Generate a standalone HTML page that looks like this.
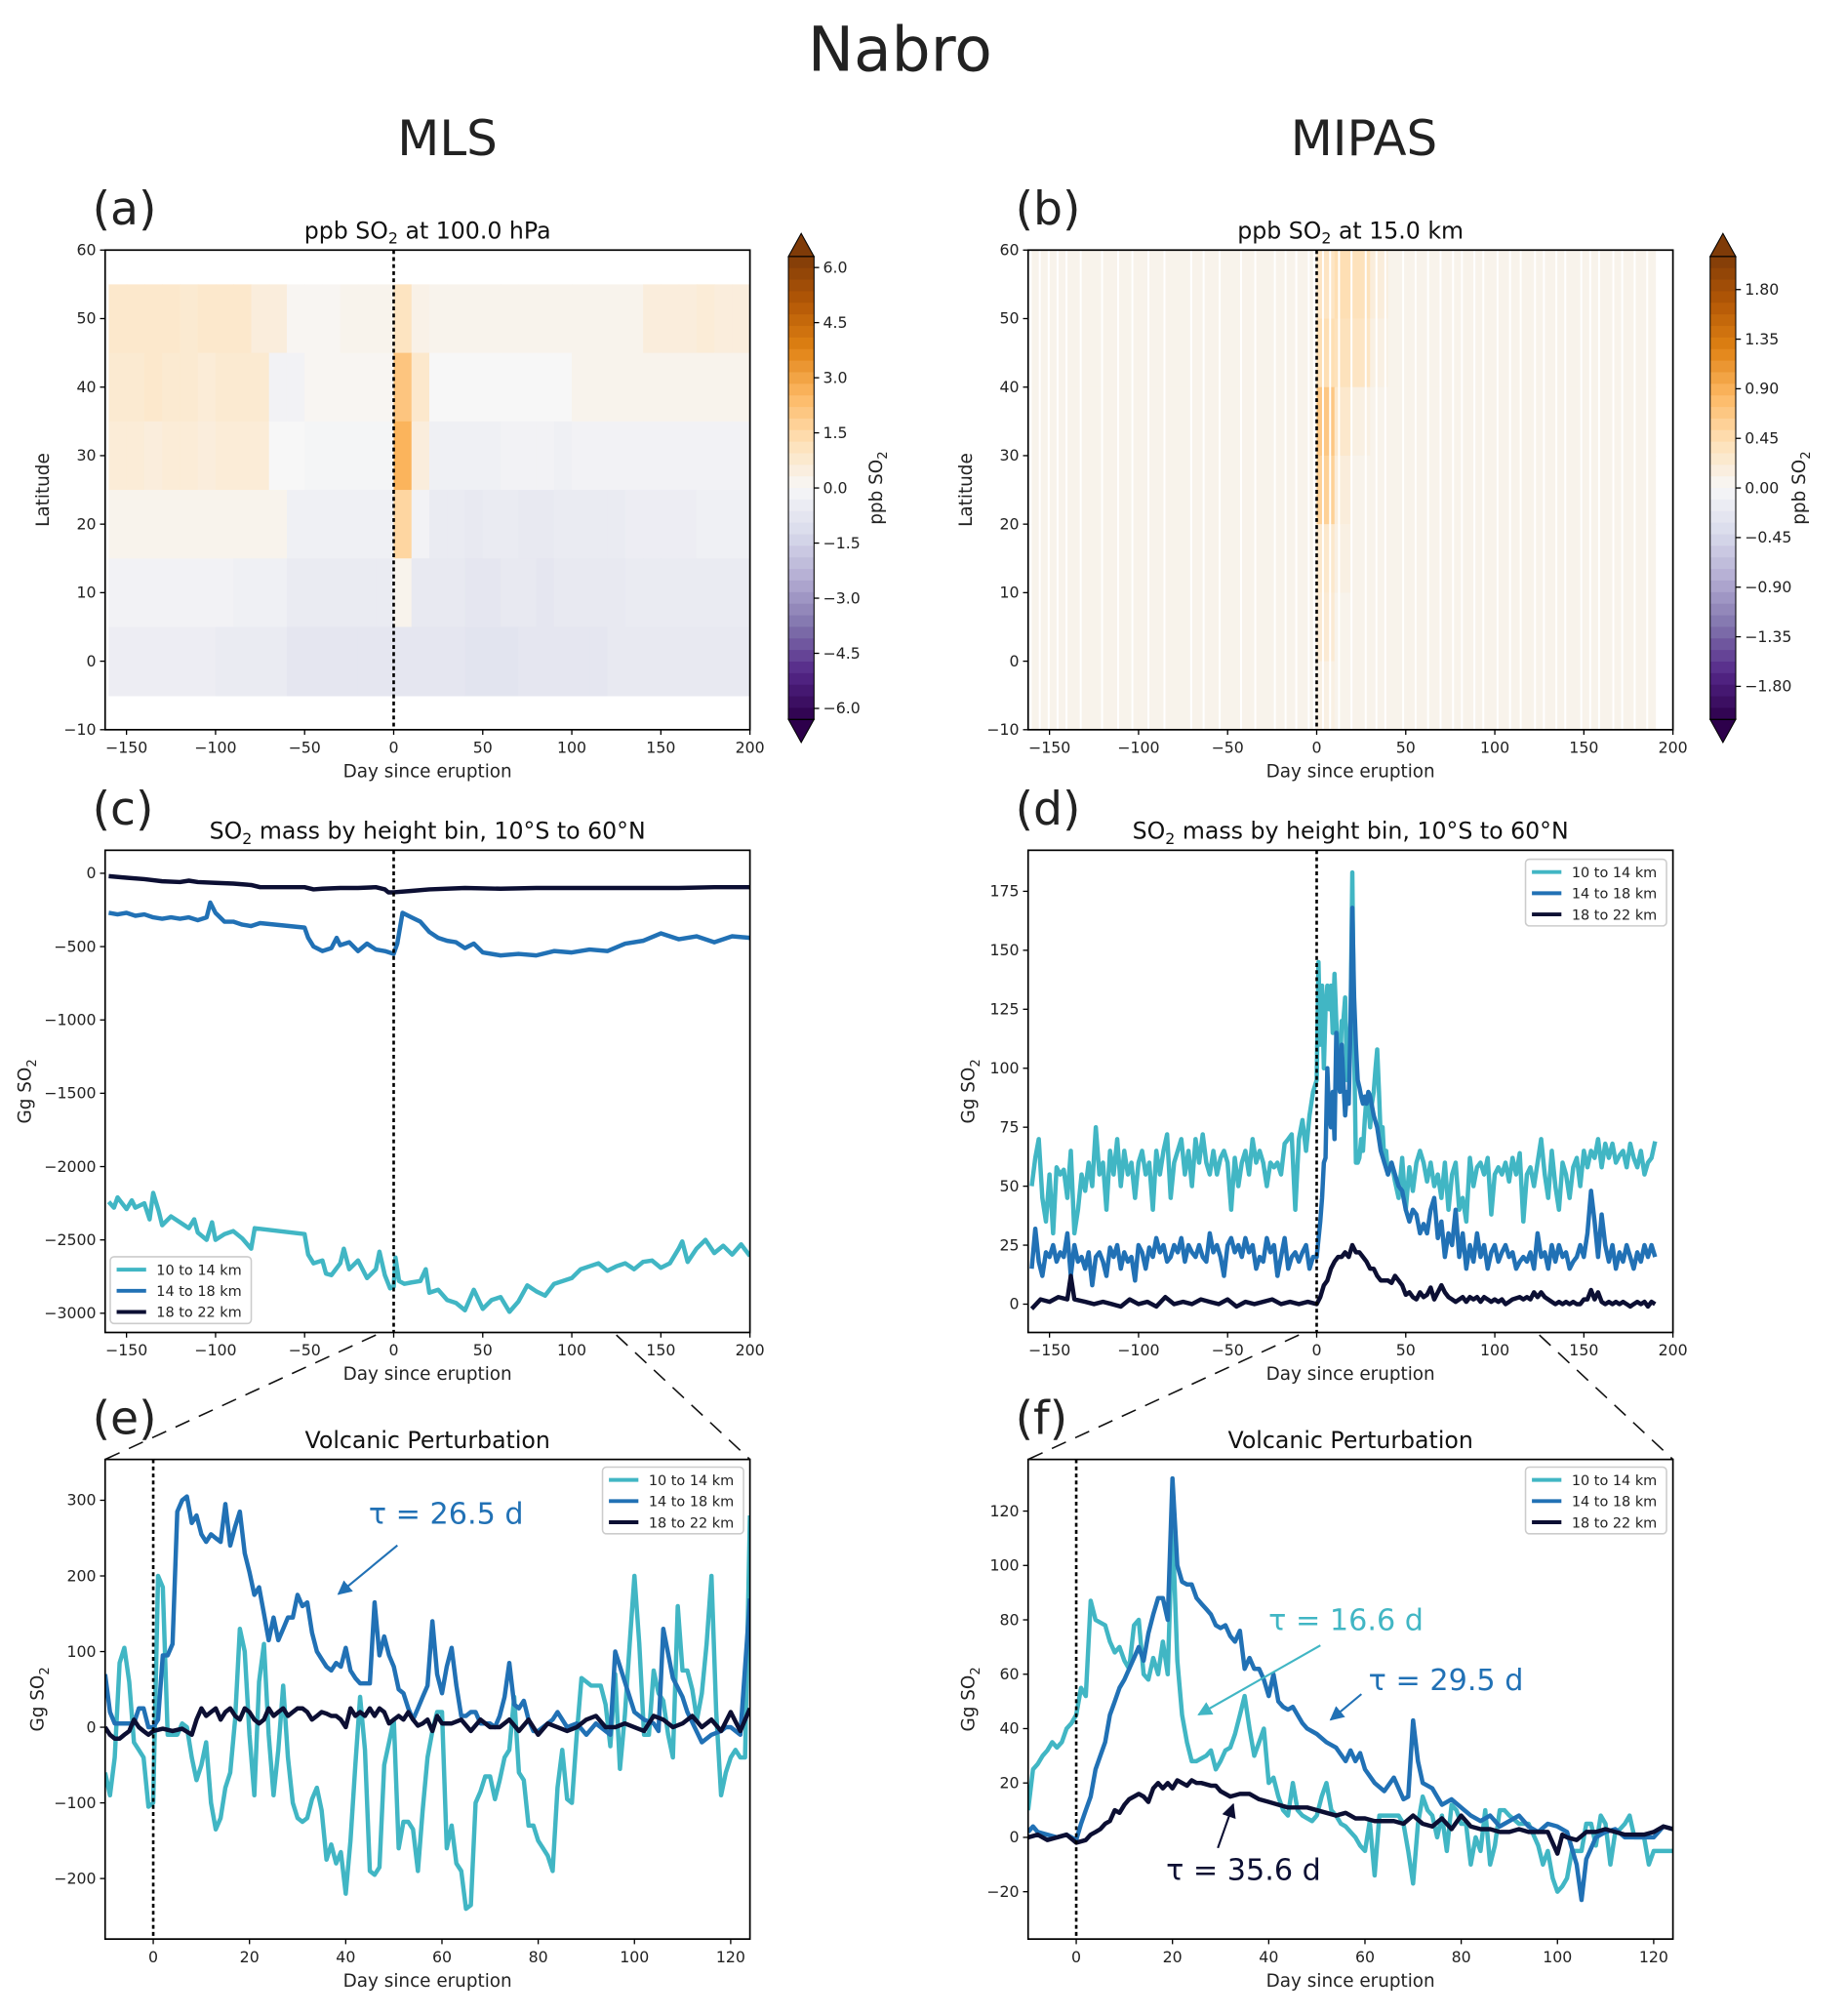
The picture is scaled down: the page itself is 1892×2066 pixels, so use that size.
<!DOCTYPE html>
<html><head><meta charset="utf-8"><title>Nabro SO2</title>
<style>
html,body{margin:0;padding:0;background:#fff;}
svg{display:block;font-family:"DejaVu Sans","Liberation Sans",sans-serif;}
</style></head>
<body>
<svg id="fig" width="1892" height="2066" viewBox="0 0 1440 1572" preserveAspectRatio="none" xmlns="http://www.w3.org/2000/svg">
<defs>
<marker id="ahBlue" viewBox="0 0 10 10" refX="9" refY="5" markerWidth="7" markerHeight="7" orient="auto"><path d="M0,0 L10,5 L0,10 z" fill="#2171b5"/></marker>
<marker id="ahCyan" viewBox="0 0 10 10" refX="9" refY="5" markerWidth="7" markerHeight="7" orient="auto"><path d="M0,0 L10,5 L0,10 z" fill="#41b6c4"/></marker>
<marker id="ahDark" viewBox="0 0 10 10" refX="9" refY="5" markerWidth="7" markerHeight="7" orient="auto"><path d="M0,0 L10,5 L0,10 z" fill="#0c0f33"/></marker>
</defs>
<text x="702" y="55" font-size="48" text-anchor="middle" fill="#222">Nabro</text>
<text x="349" y="121" font-size="38" text-anchor="middle" fill="#222">MLS</text>
<text x="1064" y="121" font-size="38" text-anchor="middle" fill="#222">MIPAS</text>
</svg>
<script>
// ---------- DATA ----------
const C1 = "#41b6c4", C2 = "#2171b5", C3 = "#0c0f33";
const seriesNames = ["10 to 14 km", "14 to 18 km", "18 to 22 km"];

// panel (a) heatmap: 10-day bins from -160, lat rows from 55 (top) to -5
const aDayEdges = [-160,-150,-140,-130,-120,-110,-100,-90,-80,-70,-60,-50,-40,-30,-20,-10,0,10,20,30,40,50,60,70,80,90,100,110,120,130,140,150,160,170,180,190,200];
const aLatEdges = [55,45,35,25,15,5,-5];
const aRow0 = [0.8,0.8,0.8,0.8,0.7,0.8,0.8,0.8,0.5,0.5,0.1,0.1,0.1,0.2,0.2,0.2,1.0,0.3,0.2,0.2,0.2,0.2,0.2,0.2,0.2,0.2,0.2,0.2,0.2,0.2,0.5,0.5,0.5,0.6,0.5,0.5];
const aRow1 = [0.7,0.7,0.8,0.7,0.7,0.6,0.7,0.7,0.7,-0.2,-0.2,0.1,0.1,0.1,0.1,0.1,2.0,0.8,0.0,0.0,0.0,0.0,0.0,0.0,0.0,0.0,0.2,0.2,0.2,0.2,0.2,0.2,0.2,0.2,0.2,0.2];
const aRow2 = [0.6,0.6,0.5,0.6,0.6,0.5,0.6,0.6,0.6,0.0,0.0,-0.1,-0.1,-0.1,-0.1,-0.1,2.5,0.5,-0.3,-0.3,-0.3,-0.3,-0.2,-0.2,-0.2,-0.3,-0.2,-0.2,-0.2,-0.2,-0.2,-0.2,-0.2,-0.2,-0.2,-0.2];
const aRow3 = [0.2,0.2,0.2,0.2,0.2,0.2,0.2,0.2,0.2,0.2,-0.3,-0.3,-0.3,-0.3,-0.3,-0.3,1.5,-0.2,-0.5,-0.5,-0.6,-0.5,-0.5,-0.6,-0.6,-0.5,-0.5,-0.5,-0.5,-0.4,-0.4,-0.4,-0.4,-0.3,-0.3,-0.3];
const aRow4 = [-0.2,-0.2,-0.2,-0.2,-0.2,-0.2,-0.2,-0.3,-0.3,-0.3,-0.5,-0.5,-0.5,-0.5,-0.5,-0.5,0.2,-0.6,-0.6,-0.6,-0.7,-0.7,-0.6,-0.6,-0.7,-0.6,-0.6,-0.6,-0.6,-0.5,-0.5,-0.5,-0.5,-0.5,-0.5,-0.5];
const aRow5 = [-0.4,-0.4,-0.4,-0.4,-0.4,-0.4,-0.5,-0.5,-0.5,-0.5,-0.7,-0.7,-0.7,-0.7,-0.7,-0.7,-0.7,-0.7,-0.7,-0.7,-0.8,-0.8,-0.8,-0.7,-0.7,-0.7,-0.7,-0.7,-0.6,-0.6,-0.6,-0.6,-0.6,-0.6,-0.6,-0.6];
const aTicks = [6.0,4.5,3.0,1.5,0.0,-1.5,-3.0,-4.5,-6.0];

// panel (b) heatmap: 10-day bins from -160 to 190, lat rows from 60 to -10
const bDayEdges = [-160,-150,-140,-130,-120,-110,-100,-90,-80,-70,-60,-50,-40,-30,-20,-10,0,10,20,30,40,50,60,70,80,90,100,110,120,130,140,150,160,170,180,190];
const bLatEdges = [60,50,40,30,20,10,0,-10];
const bBase = 0.08;
const bPlumeRow0 = [0,0,0,0,0,0,0,0,0,0,0,0,0,0,0,0,0.25,0.35,0.3,0.1,0,0,0,0,0,0,0,0,0,0,0,0,0,0,0];
const bPlumeRow1 = [0,0,0,0,0,0,0,0,0,0,0,0,0,0,0,0,0.35,0.3,0.25,0.05,0,0,0,0,0,0,0,0,0,0,0,0,0,0,0];
const bPlumeRow2 = [0,0,0,0,0,0,0,0,0,0,0,0,0,0,0,0,0.6,0.2,0.05,0,0,0,0,0,0,0,0,0,0,0,0,0,0,0,0];
const bPlumeRow3 = [0,0,0,0,0,0,0,0,0,0,0,0,0,0,0,0,0.5,0.1,0,0,0,0,0,0,0,0,0,0,0,0,0,0,0,0,0];
const bPlumeRow4 = [0,0,0,0,0,0,0,0,0,0,0,0,0,0,0,0,0.2,0.05,0,0,0,0,0,0,0,0,0,0,0,0,0,0,0,0,0];
const bPlumeRow5 = [0,0,0,0,0,0,0,0,0,0,0,0,0,0,0,0,0.15,0,0,0,0,0,0,0,0,0,0,0,0,0,0,0,0,0,0];
const bPlumeRow6 = [0,0,0,0,0,0,0,0,0,0,0,0,0,0,0,0,0.05,0,0,0,0,0,0,0,0,0,0,0,0,0,0,0,0,0,0];
const bGapDays = [-156,-151,-146,-141,-133,-121,-112,-104,-95,-86,-71,-64,-55,-43,-35,-24,-18,-12,-5,-2,3,7,12,19,27,33,38,48,55,62,69,76,81,88,93,101,108,114,122,127,134,139,148,153,158,166,171,178,185];
const bTicks = [1.80,1.35,0.90,0.45,0.00,-0.45,-0.90,-1.35,-1.80];

// panel (c) MLS mass by height bin
const cDay1 = [-160,-157,-155,-150,-147,-145,-140,-137,-135,-132,-130,-125,-120,-115,-112,-110,-105,-102,-100,-95,-90,-85,-80,-78,-50,-48,-45,-40,-38,-35,-30,-28,-25,-20,-15,-10,-8,-5,-2,0,1,3,6,10,15,18,20,25,30,35,40,45,50,55,60,65,70,75,80,85,90,95,100,105,110,115,120,125,130,135,140,145,150,155,160,162,165,170,175,180,185,190,195,200];
const cVal1 = [-2240,-2280,-2210,-2290,-2230,-2280,-2250,-2360,-2180,-2300,-2400,-2340,-2380,-2420,-2360,-2450,-2500,-2380,-2500,-2460,-2440,-2490,-2560,-2420,-2460,-2600,-2660,-2640,-2730,-2740,-2660,-2560,-2700,-2640,-2760,-2700,-2580,-2740,-2830,-2820,-2620,-2780,-2800,-2790,-2780,-2700,-2860,-2840,-2910,-2930,-2980,-2840,-2970,-2910,-2890,-2990,-2920,-2810,-2850,-2880,-2800,-2780,-2760,-2700,-2680,-2660,-2710,-2680,-2660,-2700,-2650,-2640,-2690,-2660,-2560,-2510,-2650,-2560,-2500,-2590,-2540,-2600,-2530,-2610];
const cDay2 = [-160,-155,-150,-145,-140,-135,-130,-125,-120,-115,-110,-105,-103,-100,-95,-90,-85,-80,-75,-50,-48,-45,-40,-35,-32,-30,-25,-20,-15,-10,-5,0,2,5,10,15,20,25,30,35,40,45,50,60,70,80,90,100,110,120,130,140,150,160,170,180,190,200];
const cVal2 = [-270,-280,-270,-290,-280,-300,-310,-300,-310,-300,-320,-300,-200,-270,-330,-330,-350,-360,-340,-370,-440,-500,-530,-510,-440,-490,-470,-530,-480,-520,-530,-550,-480,-270,-300,-330,-400,-440,-460,-470,-510,-480,-540,-560,-550,-560,-530,-540,-520,-530,-480,-460,-410,-450,-430,-470,-430,-440];
const cDay3 = [-160,-150,-140,-130,-120,-115,-110,-100,-90,-80,-75,-70,-60,-50,-45,-40,-30,-20,-10,-5,-3,0,10,20,40,60,80,100,120,140,160,180,200];
const cVal3 = [-20,-30,-40,-55,-60,-50,-60,-65,-70,-80,-95,-95,-95,-95,-110,-105,-100,-100,-95,-110,-130,-130,-120,-110,-100,-105,-100,-100,-100,-100,-100,-95,-95];

// panel (d) MIPAS mass by height bin
const dDay1 = [-160,-158,-156,-154,-152,-150,-148,-146,-144,-142,-140,-138,-136,-134,-132,-130,-128,-126,-124,-122,-120,-118,-116,-114,-112,-110,-108,-106,-104,-102,-100,-98,-96,-94,-92,-90,-88,-86,-84,-82,-80,-78,-76,-74,-72,-70,-68,-66,-64,-62,-60,-58,-56,-54,-52,-50,-48,-46,-44,-42,-40,-38,-36,-34,-32,-30,-28,-26,-24,-22,-20,-18,-16,-14,-12,-10,-8,-6,-4,-2,0,1,2,3,4,5,6,7,8,9,10,11,12,13,14,15,16,17,18,19,20,21,22,23,24,25,26,27,28,29,30,31,32,33,34,35,36,37,38,39,40,42,44,46,48,50,52,54,56,58,60,62,64,66,68,70,72,74,76,78,80,82,84,86,88,90,92,94,96,98,100,102,104,106,108,110,112,114,116,118,120,122,124,126,128,130,132,134,136,138,140,142,144,146,148,150,152,154,156,158,160,162,164,166,168,170,172,174,176,178,180,182,184,186,188,190];
const dVal1 = [50,62,70,45,35,55,30,58,55,57,45,65,30,40,55,48,60,50,75,55,60,40,65,55,70,50,65,55,60,45,60,65,55,60,40,65,55,65,72,45,60,65,70,55,65,50,70,60,72,60,55,65,55,62,65,60,40,62,50,60,65,55,70,60,65,60,50,60,58,60,55,68,70,72,40,70,78,65,80,90,95,145,110,135,100,125,135,125,135,115,140,120,105,95,120,120,130,95,105,120,183,110,60,60,62,70,65,78,88,85,75,85,90,100,108,90,70,75,60,65,55,60,52,45,62,40,58,48,60,65,60,52,60,50,55,45,60,40,55,60,40,45,35,62,50,58,60,55,62,38,55,58,55,60,52,62,55,64,35,55,58,50,60,70,55,45,65,50,40,60,55,45,58,62,50,65,58,65,62,70,58,68,62,68,60,63,65,58,68,62,58,65,55,60,62,69];
const dDay2 = [-160,-158,-156,-154,-152,-150,-148,-146,-144,-142,-140,-138,-136,-134,-132,-130,-128,-126,-124,-122,-120,-118,-116,-114,-112,-110,-108,-106,-104,-102,-100,-98,-96,-94,-92,-90,-88,-86,-84,-82,-80,-78,-76,-74,-72,-70,-68,-66,-64,-62,-60,-58,-56,-54,-52,-50,-48,-46,-44,-42,-40,-38,-36,-34,-32,-30,-28,-26,-24,-22,-20,-18,-16,-14,-12,-10,-8,-6,-4,-2,0,2,3,4,5,6,7,8,9,10,11,12,13,14,15,16,17,18,19,20,21,22,23,24,25,26,27,28,29,30,32,34,36,38,40,42,44,46,48,50,52,54,56,58,60,62,64,66,68,70,72,74,76,78,80,82,84,86,88,90,92,94,96,98,100,102,104,106,108,110,112,114,116,118,120,122,124,126,128,130,132,134,136,138,140,142,144,146,148,150,152,154,156,158,160,162,164,166,168,170,172,174,176,178,180,182,184,186,188,190];
const dVal2 = [15,32,18,12,22,20,25,18,22,20,30,12,25,18,20,15,22,8,20,22,18,12,24,20,25,15,22,18,20,10,25,22,15,24,20,28,22,25,18,20,25,22,28,18,25,22,20,25,20,18,30,22,25,20,12,25,28,22,25,20,28,22,25,15,20,18,28,22,25,12,20,28,15,20,22,18,22,25,15,20,20,35,45,60,62,100,80,75,90,70,115,100,90,110,95,80,90,85,118,168,130,110,95,92,88,85,88,85,90,88,80,75,65,60,55,60,55,50,48,40,35,40,38,30,34,30,40,45,28,35,20,30,25,40,20,30,15,25,18,30,20,25,15,22,25,18,22,25,20,22,15,18,20,18,22,15,30,20,22,15,25,18,25,20,22,15,18,20,25,20,30,48,35,20,38,25,18,25,15,22,18,25,20,15,22,18,25,20,25,20];
const dDay3 = [-160,-155,-150,-145,-140,-138,-136,-130,-125,-120,-115,-110,-105,-100,-95,-90,-85,-80,-75,-70,-65,-60,-55,-50,-45,-40,-35,-30,-25,-20,-15,-10,-5,0,2,4,6,8,10,12,14,16,18,20,22,24,26,28,30,32,34,36,38,40,42,44,46,48,50,52,54,56,58,60,62,64,66,68,70,72,74,76,78,80,82,84,86,88,90,92,94,96,98,100,102,104,106,108,110,114,116,118,120,122,124,126,128,130,132,134,136,138,140,142,144,146,148,150,152,154,156,158,160,162,164,166,168,170,172,174,176,178,180,182,184,186,188,190];
const dVal3 = [-2,2,1,3,2,12,2,1,0,1,0,-1,2,0,1,-1,3,0,1,0,2,1,0,2,-1,1,0,1,2,0,1,0,1,0,3,8,10,15,18,20,20,22,20,25,22,22,20,18,15,15,12,10,10,10,9,12,10,8,4,5,3,2,5,3,4,7,2,5,8,5,3,2,1,2,3,1,3,2,3,1,3,2,1,2,1,2,0,1,2,3,2,3,2,5,3,5,3,2,1,0,1,0,1,0,1,0,0,2,2,6,2,5,1,0,1,0,1,0,1,0,-1,0,1,0,1,-1,1,0];

// panel (e) MLS perturbation
const eDay1 = [-10,-9,-8,-7,-6,-5,-4,-3,-2,-1,0,1,2,3,4,5,6,7,8,9,10,11,12,13,14,15,16,17,18,19,20,21,22,23,24,25,26,27,28,29,30,31,32,33,34,35,36,37,38,39,40,41,42,43,44,45,46,47,48,49,50,51,52,53,54,55,56,57,58,59,60,61,62,63,64,65,66,67,68,69,70,71,72,73,74,75,76,77,78,79,80,81,82,83,84,85,86,87,88,89,90,91,92,93,94,95,96,97,98,99,100,101,102,103,104,105,106,107,108,109,110,111,112,113,114,115,116,117,118,119,120,121,122,123,124];
const eVal1 = [-60,-90,-40,85,105,60,-20,-30,-40,-105,-100,200,185,-10,-10,-10,5,0,-40,-70,-50,-20,-100,-135,-120,-80,-60,10,130,100,-10,-90,60,110,-10,-90,-30,55,-40,-100,-120,-125,-120,-95,-80,-110,-175,-155,-180,-165,-220,-150,-50,40,-30,-190,-195,-185,-50,-20,10,-160,-125,-125,-135,-190,-110,-40,-5,20,20,-160,-130,-180,-190,-240,-235,-100,-85,-65,-65,-95,-70,-40,-30,40,-60,-70,-130,-130,-150,-160,-170,-190,-80,-30,-95,-100,-10,65,60,55,55,55,30,-25,70,-55,15,110,200,110,-10,-10,75,45,35,-10,-40,160,75,75,50,10,45,110,200,20,-90,-60,-40,-30,-40,-40,280];
const eDay2 = [-10,-9,-8,-6,-4,-3,-2,-1,0,1,2,3,4,5,6,7,8,9,10,11,12,13,14,15,16,17,18,19,20,21,22,23,24,25,26,27,28,29,30,31,32,33,34,35,36,37,38,39,40,41,42,43,44,45,46,47,48,49,50,51,52,53,54,55,56,57,58,59,60,61,62,63,64,65,66,67,68,69,70,71,72,73,74,75,76,77,78,79,80,81,82,83,84,86,88,90,92,95,96,98,100,102,104,105,106,108,110,111,114,116,118,119,120,122,124];
const eVal2 = [70,20,5,5,5,25,25,0,0,10,95,95,110,285,300,305,270,280,255,245,255,250,245,295,240,265,285,230,205,175,185,150,115,145,115,130,145,145,175,160,165,125,100,90,80,75,85,80,105,75,65,58,58,58,165,95,120,95,80,50,45,25,10,25,40,55,140,70,45,80,105,55,15,15,20,20,5,5,5,0,15,40,85,30,25,35,10,-5,-5,0,5,10,20,0,5,-10,5,-10,100,60,20,10,5,-5,130,65,40,20,-20,-10,-5,0,0,-10,170,70];
const eDay3 = [-10,-9,-8,-7,-6,-5,-4,-3,-2,-1,0,2,4,6,8,9,10,11,12,13,14,15,16,17,18,19,20,21,22,23,24,25,26,27,28,29,30,31,32,33,34,35,36,37,38,39,40,41,42,43,44,45,46,47,48,49,50,51,52,53,54,55,56,57,58,59,60,62,64,66,68,70,72,74,76,78,80,82,84,86,88,90,92,94,96,98,100,102,104,106,108,110,112,114,116,118,120,122,124];
const eVal3 = [0,-10,-15,-15,-10,-5,10,0,-5,-10,-5,-2,-5,-2,-10,10,25,15,20,25,10,20,25,15,10,25,20,10,5,10,25,15,20,25,15,20,25,25,20,10,15,20,18,15,15,10,0,25,15,20,15,25,15,25,20,5,10,15,10,20,10,2,5,10,-5,15,5,5,10,-5,10,0,0,10,-5,10,-10,5,0,-5,0,10,15,0,0,5,0,-5,15,10,0,5,15,0,10,-5,20,-5,25];

// panel (f) MIPAS perturbation
const fDay1 = [-10,-9,-8,-7,-6,-5,-4,-3,-2,-1,0,1,2,3,4,5,6,7,8,9,10,11,12,13,14,15,16,17,18,19,20,21,22,23,24,25,26,27,28,29,30,31,32,33,34,35,36,37,38,39,40,41,42,43,44,45,46,47,48,49,50,51,52,53,54,55,56,57,58,59,60,61,62,63,64,65,66,67,68,69,70,71,72,73,74,75,76,77,78,79,80,81,82,83,84,85,86,87,88,89,90,92,94,96,97,98,99,100,101,102,103,104,105,106,107,108,109,110,111,112,113,114,115,116,117,118,119,120,122,124];
const fVal1 = [10,25,27,30,32,35,33,35,40,42,45,55,52,87,80,79,78,72,68,70,65,62,78,80,60,58,66,60,72,60,115,65,45,35,28,28,29,30,32,25,28,32,33,38,45,52,40,30,35,40,20,22,15,10,8,20,10,8,7,6,8,15,20,10,8,5,4,2,0,-3,-5,6,-14,8,8,8,8,8,5,-5,-17,5,15,10,8,0,8,-5,12,10,5,5,-10,0,-5,10,-10,-3,10,10,8,5,5,-3,-10,-5,-15,-20,-18,-15,-5,-5,-5,5,5,-3,8,5,-10,2,3,5,8,0,0,0,-10,-5,-5,-5];
const fDay2 = [-10,-9,-8,-6,-4,-2,0,1,2,3,4,5,6,7,8,9,10,11,12,13,14,15,16,17,18,19,20,21,22,23,24,25,26,27,28,29,30,31,32,33,34,35,36,37,38,39,40,41,42,43,44,45,46,47,48,49,50,52,54,56,57,58,59,60,62,64,66,68,69,70,71,72,74,76,78,80,82,84,86,88,90,92,94,96,98,100,102,104,105,106,108,110,112,114,116,118,120,122,124];
const fVal2 = [2,4,2,1,0,1,-1,5,10,15,25,30,35,45,50,55,58,62,66,70,65,75,82,88,88,80,132,100,94,93,93,88,86,84,82,78,77,78,74,72,76,62,66,62,62,58,52,60,50,48,47,48,45,42,40,39,38,35,33,28,32,28,31,25,20,17,22,14,15,43,28,20,18,12,14,11,8,6,8,4,6,8,4,2,5,4,2,-10,-23,-8,0,2,3,0,0,0,0,4,3];
const fDay3 = [-10,-8,-6,-4,-2,0,2,3,4,5,6,7,8,9,10,11,12,13,14,15,16,17,18,19,20,21,22,23,24,25,26,28,29,30,32,34,36,38,40,42,44,46,48,50,52,54,56,58,60,62,64,66,68,70,72,74,76,78,80,82,84,86,88,90,92,94,96,98,100,101,102,104,106,108,110,112,114,116,118,120,122,124];
const fVal3 = [0,1,-1,0,1,-2,-1,1,2,3,5,6,10,9,12,14,15,16,15,13,18,20,18,20,18,21,20,19,21,20,20,19,19,17,15,16,16,14,13,12,11,11,11,10,9,8,9,7,7,6,6,6,5,8,5,4,7,3,8,4,3,3,2,2,3,2,2,2,-6,1,0,-1,2,2,3,2,1,1,1,2,4,3];

// ---------- DRAWING ----------
const NS = "http://www.w3.org/2000/svg";
const svg = document.getElementById("fig");
function mk(tag, attrs, parent) {
  const e = document.createElementNS(NS, tag);
  for (const k in attrs) e.setAttribute(k, attrs[k]);
  (parent || svg).appendChild(e);
  return e;
}
function txt(s, attrs, parent) { const t = mk("text", attrs, parent); t.textContent = s; return t; }
function fmtMinus(v) { return String(v).replace("-", "\u2212"); }

function makeAxes(key, x0, y0, x1, y1, xmin, xmax, ymin, ymax, xticks, yticks, yfmt) {
  const g = mk("g", {});
  
  
  const sx = v => x0 + (v - xmin) / (xmax - xmin) * (x1 - x0);
  const sy = v => y1 - (v - ymin) / (ymax - ymin) * (y1 - y0);
  const clip = mk("clipPath", { id: "clip-" + key }, svg.querySelector("defs"));
  mk("rect", { x: x0, y: y0, width: x1 - x0, height: y1 - y0 }, clip);
  const plot = mk("g", { "clip-path": "url(#clip-" + key + ")" }, g);
  
  
  const xt = mk("g", { "font-size": 12, fill: "#222", "text-anchor": "middle" }, g);
  
  
  xticks.forEach(v => {
    mk("line", { x1: sx(v), x2: sx(v), y1: y1, y2: y1 + 4, stroke: "#000", "stroke-width": 1 }, xt);
    txt(fmtMinus(v), { x: sx(v), y: y1 + 18 }, xt);
  });
  const yt = mk("g", { "font-size": 12, fill: "#222", "text-anchor": "end" }, g);
  
  
  yticks.forEach(v => {
    mk("line", { x1: x0 - 4, x2: x0, y1: sy(v), y2: sy(v), stroke: "#000", "stroke-width": 1 }, yt);
    txt(fmtMinus(yfmt ? yfmt(v) : v), { x: x0 - 7, y: sy(v) + 4 }, yt);
  });
  return { g, plot, sx, sy, x0, y0, x1, y1 };
}
function frame(ax) {
  const r = mk("rect", { x: ax.x0, y: ax.y0, width: ax.x1 - ax.x0, height: ax.y1 - ax.y0, fill: "none", stroke: "#000", "stroke-width": 1.3 }, ax.g);
  
  
}
function zeroLine(ax) {
  const l = mk("line", { x1: ax.sx(0), x2: ax.sx(0), y1: ax.y0, y2: ax.y1, stroke: "#000", "stroke-width": 2, "stroke-dasharray": "3,2.5" }, ax.plot);
  
  
}
function series(ax, days, vals, color, name) {
  const pts = days.map((d, i) => ax.sx(d).toFixed(1) + "," + ax.sy(vals[i]).toFixed(1)).join(" ");
  const p = mk("polyline", { points: pts, fill: "none", stroke: color, "stroke-width": 3.4, "stroke-linejoin": "round" }, ax.plot);
  
  
}
function labels(ax, key, panel, title, ylabel, yLabelX) {
  const pl = txt(panel, { x: ax.x0 - 10, y: ax.y0 - 20, "font-size": 36, fill: "#222" });
  
  
  const t = txt("", { x: (ax.x0 + ax.x1) / 2, y: ax.y0 - 9, "font-size": 18, fill: "#111", "text-anchor": "middle" });
  t.innerHTML = title;
  
  
  const xl = txt("Day since eruption", { x: (ax.x0 + ax.x1) / 2, y: ax.y1 + 37, "font-size": 14, fill: "#222", "text-anchor": "middle" });
  
  
  const yl = txt("", { x: 0, y: 0, "font-size": 14, fill: "#222", "text-anchor": "middle", transform: "translate(" + yLabelX + "," + (ax.y0 + ax.y1) / 2 + ") rotate(-90)" });
  yl.innerHTML = ylabel;
  
  
}
function legend(ax, key, x, y) {
  const g = mk("g", {}, ax.g);
  
  
  mk("rect", { x: x, y: y, width: 110, height: 52, rx: 3, fill: "#fff", "fill-opacity": 0.85, stroke: "#ccc", "stroke-width": 1.2 }, g);
  [C1, C2, C3].forEach((c, i) => {
    const yy = y + 10 + i * 16.5;
    const ln = mk("line", { x1: x + 5, x2: x + 28, y1: yy, y2: yy, stroke: c, "stroke-width": 3 }, g);
    
    
    const t = txt(seriesNames[i], { x: x + 36, y: yy + 4, "font-size": 11, fill: "#222" }, g);
    
    
  });
}
// diverging colormap (PuOr reversed)
const posStops = [[247,247,247],[254,224,182],[253,184,99],[224,130,20],[179,88,6],[127,59,8]];
const negStops = [[247,247,247],[216,218,235],[178,171,210],[128,115,172],[84,39,136],[45,0,75]];
function cmap(v, vmax) {
  let t = Math.max(-1, Math.min(1, v / vmax));
  const stops = t >= 0 ? posStops : negStops;
  t = Math.abs(t) * (stops.length - 1);
  const i = Math.min(Math.floor(t), stops.length - 2), f = t - i;
  const c = stops[i].map((a, k) => Math.round(a + (stops[i + 1][k] - a) * f));
  return "rgb(" + c.join(",") + ")";
}
function colorbar(key, x, y0, y1, vmax, ticks, fmt, labelX) {
  const g = mk("g", {});
  
  
  const n = 40, w = 20, h = (y1 - y0) / n;
  for (let i = 0; i < n; i++) {
    const v = vmax - (i + 0.5) * 2 * vmax / n;
    const r = mk("rect", { x: x, y: y0 + i * h, width: w, height: h + 0.5, fill: cmap(v, vmax) }, g);
    
    
  }
  mk("polygon", { points: x + "," + y0 + " " + (x + w / 2) + "," + (y0 - 18) + " " + (x + w) + "," + y0, fill: cmap(vmax * 1.1, vmax), stroke: "#000", "stroke-width": 0.8 }, g);
  mk("polygon", { points: x + "," + y1 + " " + (x + w / 2) + "," + (y1 + 18) + " " + (x + w) + "," + y1, fill: cmap(-vmax * 1.1, vmax), stroke: "#000", "stroke-width": 0.8 }, g);
  mk("rect", { x: x, y: y0, width: w, height: y1 - y0, fill: "none", stroke: "#000", "stroke-width": 0.8 }, g);
  ticks.forEach(v => {
    const yy = y0 + (vmax - v) / (2 * vmax) * (y1 - y0);
    mk("line", { x1: x + w, x2: x + w + 4, y1: yy, y2: yy, stroke: "#000" }, g);
    const t = txt(fmtMinus(v.toFixed(fmt)), { x: x + w + 7, y: yy + 4, "font-size": 12, fill: "#222" }, g);
    
    
  });
  const lab = txt("", { x: 0, y: 0, "font-size": 14, fill: "#222", "text-anchor": "middle", transform: "translate(" + labelX + "," + (y0 + y1) / 2 + ") rotate(-90)" }, g);
  lab.innerHTML = 'ppb SO<tspan font-size="10" dy="4">2</tspan>';
  
  
}

const xTicksLong = [-150, -100, -50, 0, 50, 100, 150, 200];
const xTicksShort = [0, 20, 40, 60, 80, 100, 120];

// ----- (a)
const axA = makeAxes("panel-a", 82, 195, 585, 569, -162, 200, -10, 60, xTicksLong, [-10, 0, 10, 20, 30, 40, 50, 60]);
const aRows = [aRow0, aRow1, aRow2, aRow3, aRow4, aRow5];
aRows.forEach((row, r) => {
  row.forEach((v, c) => {
    const xa = axA.sx(aDayEdges[c]), xb = axA.sx(aDayEdges[c + 1]);
    const ya = axA.sy(aLatEdges[r]), yb = axA.sy(aLatEdges[r + 1]);
    const cell = mk("rect", { x: xa, y: ya, width: xb - xa + 0.6, height: yb - ya + 0.6, fill: cmap(v, 6) }, axA.plot);
    
    
  });
});
zeroLine(axA); frame(axA);
labels(axA, "panel-a", "(a)", 'ppb SO<tspan font-size="12" dy="4">2</tspan><tspan dy="-4"> at 100.0 hPa</tspan>', "Latitude", 38);
colorbar("panel-a", 615, 200, 561, 6.3, aTicks, 1, 688);

// ----- (b)
const axB = makeAxes("panel-b", 802, 195, 1305, 569, -162, 200, -10, 60, xTicksLong, [-10, 0, 10, 20, 30, 40, 50, 60]);
const bRows = [bPlumeRow0, bPlumeRow1, bPlumeRow2, bPlumeRow3, bPlumeRow4, bPlumeRow5, bPlumeRow6];
bRows.forEach((row, r) => {
  row.forEach((v, c) => {
    const xa = axB.sx(bDayEdges[c]), xb = axB.sx(bDayEdges[c + 1]);
    const ya = axB.sy(bLatEdges[r]), yb = axB.sy(bLatEdges[r + 1]);
    const cell = mk("rect", { x: xa, y: ya, width: xb - xa + 0.6, height: yb - ya + 0.6, fill: cmap(bBase + v, 2.1) }, axB.plot);
    
    
  });
});
bGapDays.forEach(d => {
  const s = mk("rect", { x: axB.sx(d), y: axB.y0, width: 1.5, height: axB.y1 - axB.y0, fill: "#fff" }, axB.plot);
  
  
});
zeroLine(axB); frame(axB);
labels(axB, "panel-b", "(b)", 'ppb SO<tspan font-size="12" dy="4">2</tspan><tspan dy="-4"> at 15.0 km</tspan>', "Latitude", 758);
colorbar("panel-b", 1334, 200, 561, 2.1, bTicks, 2, 1408);

// ----- (c)
const axC = makeAxes("panel-c", 82, 663, 585, 1039, -162, 200, -3131, 157, xTicksLong, [0, -500, -1000, -1500, -2000, -2500, -3000]);
series(axC, cDay1, cVal1, C1, "series-10-14km");
series(axC, cDay2, cVal2, C2, "series-14-18km");
series(axC, cDay3, cVal3, C3, "series-18-22km");
zeroLine(axC); frame(axC);
labels(axC, "panel-c", "(c)", 'SO<tspan font-size="12" dy="4">2</tspan><tspan dy="-4"> mass by height bin, 10°S to 60°N</tspan>', 'Gg SO<tspan font-size="10" dy="4">2</tspan>', 24);
legend(axC, "panel-c", 86, 980);

// ----- (d)
const axD = makeAxes("panel-d", 802, 663, 1305, 1039, -162, 200, -12, 192.4, xTicksLong, [0, 25, 50, 75, 100, 125, 150, 175]);
series(axD, dDay1, dVal1, C1, "series-10-14km");
series(axD, dDay2, dVal2, C2, "series-14-18km");
series(axD, dDay3, dVal3, C3, "series-18-22km");
zeroLine(axD); frame(axD);
labels(axD, "panel-d", "(d)", 'SO<tspan font-size="12" dy="4">2</tspan><tspan dy="-4"> mass by height bin, 10°S to 60°N</tspan>', 'Gg SO<tspan font-size="10" dy="4">2</tspan>', 760);
legend(axD, "panel-d", 1190, 670);

// ----- (e)
const axE = makeAxes("panel-e", 82, 1138, 585, 1512, -10, 124, -280, 354, xTicksShort, [-200, -100, 0, 100, 200, 300]);
series(axE, eDay1, eVal1, C1, "series-10-14km");
series(axE, eDay2, eVal2, C2, "series-14-18km");
series(axE, eDay3, eVal3, C3, "series-18-22km");
zeroLine(axE); frame(axE);
labels(axE, "panel-e", "(e)", "Volcanic Perturbation", 'Gg SO<tspan font-size="10" dy="4">2</tspan>', 34);
legend(axE, "panel-e", 470, 1144);

// ----- (f)
const axF = makeAxes("panel-f", 802, 1138, 1305, 1512, -10, 124, -37.4, 139, xTicksShort, [-20, 0, 20, 40, 60, 80, 100, 120]);
series(axF, fDay1, fVal1, C1, "series-10-14km");
series(axF, fDay2, fVal2, C2, "series-14-18km");
series(axF, fDay3, fVal3, C3, "series-18-22km");
zeroLine(axF); frame(axF);
labels(axF, "panel-f", "(f)", "Volcanic Perturbation", 'Gg SO<tspan font-size="10" dy="4">2</tspan>', 760);
legend(axF, "panel-f", 1190, 1144);

// zoom connectors
[[axC, axE, "c-e"], [axD, axF, "d-f"]].forEach(([top, bot, k]) => {
  const l1 = mk("line", { x1: top.sx(-10), y1: top.y1 + 2, x2: bot.x0, y2: bot.y0, stroke: "#111", "stroke-width": 1.2, "stroke-dasharray": "12,8" });
  
  
  const l2 = mk("line", { x1: top.sx(125), y1: top.y1 + 2, x2: bot.x1, y2: bot.y0, stroke: "#111", "stroke-width": 1.2, "stroke-dasharray": "12,8" });
  
  
});

// annotations
function annot(s, x, y, color, ax1, ay1, ax2, ay2, marker, name) {
  const t = txt(s, { x: x, y: y, "font-size": 23, fill: color, "text-anchor": "middle" });
  
  
  const a = mk("line", { x1: ax1, y1: ay1, x2: ax2, y2: ay2, stroke: color, "stroke-width": 1.6, "marker-end": "url(#" + marker + ")" });
  
  
}
annot("\u03c4 = 26.5 d", 348, 1188, C2, 310, 1205, 264, 1243, "ahBlue", "tau-e-14-18");
annot("\u03c4 = 16.6 d", 1050, 1271, C1, 1030, 1283, 935, 1337, "ahCyan", "tau-f-10-14");
annot("\u03c4 = 29.5 d", 1128, 1318, C2, 1062, 1321, 1038, 1341, "ahBlue", "tau-f-14-18");
annot("\u03c4 = 35.6 d", 970, 1466, C3, 950, 1441, 962, 1407, "ahDark", "tau-f-18-22");
</script>
</body></html>
